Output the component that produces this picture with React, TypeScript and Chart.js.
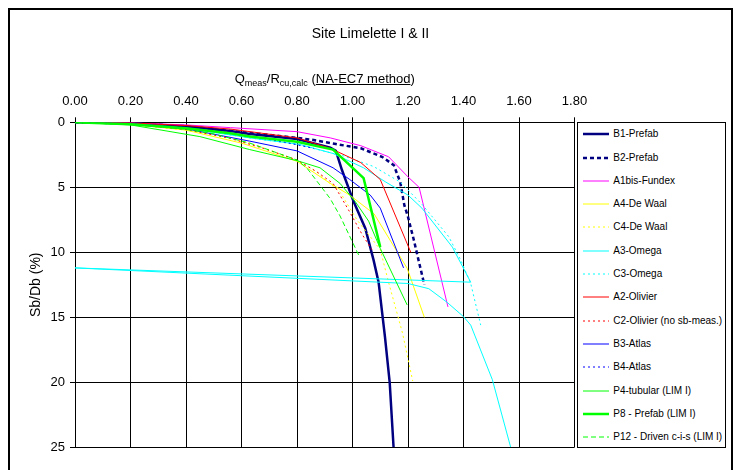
import React, { useEffect, useRef } from "react";
import { Chart, registerables } from "chart.js";

Chart.register(...registerables);

const FONT = "'Liberation Sans', Arial, Helvetica, sans-serif";

// ---- texts & axes ----
const chartTitle = "Site Limelette I & II";
const yAxisTitle = "Sb/Db (%)";
const xMin = 0;
const xMax = 1.8;
const xStep = 0.2;
const yMin = 0;
const yMax = 25;
const yStep = 5;

// ---- series values: [Qmeas/Rcu,calc, Sb/Db (%)] ----
const b1Prefab: number[][] = [
  [0, 0], [0.2, 0.08], [0.4, 0.3], [0.56, 0.67], [0.63, 0.9], [0.8, 1.28], [0.92, 1.95],
  [0.94, 2.2], [0.962, 3.67], [1.004, 6.1], [1.046, 8.15], [1.076, 10.6], [1.094, 12.3],
  [1.117, 16.5], [1.134, 20], [1.148, 25],
];
const b2Prefab: number[][] = [
  [0, 0], [0.2, 0.08], [0.4, 0.3], [0.6, 0.75], [0.8, 1.2], [0.86, 1.36], [0.94, 1.67],
  [1.03, 2.0], [1.106, 2.65], [1.149, 3.3], [1.172, 4.6], [1.187, 6.4], [1.199, 7.2],
  [1.221, 9.05], [1.239, 10.7], [1.259, 12.5],
];
const a1bisFundex: number[][] = [
  [0, 0], [0.2, 0.05], [0.4, 0.2], [0.56, 0.41], [0.8, 0.72], [0.92, 1.2], [1.03, 1.8],
  [1.13, 2.65], [1.2, 4.2], [1.24, 5.0], [1.344, 14.2],
];
const a4DeWaal: number[][] = [
  [0, 0], [0.2, 0.15], [0.4, 0.6], [0.6, 1.6], [0.8, 3.0], [0.92, 4.7], [0.99, 5.6],
  [1.078, 7.05], [1.197, 11.23], [1.259, 15.0],
];
const c4DeWaal: number[][] = [
  [0, 0], [0.2, 0.15], [0.4, 0.6], [0.5, 0.95], [0.63, 1.6], [0.8, 2.9], [0.87, 3.8],
  [0.956, 5.4], [1.016, 7.5], [1.064, 8.8], [1.1, 9.8], [1.13, 12.3], [1.18, 16.2],
  [1.217, 19.9],
];
const a3Omega: number[][] = [
  [0, 0], [0.2, 0.1], [0.4, 0.45], [0.63, 1.2], [0.81, 1.7], [0.93, 2.4], [1.04, 3.5],
  [1.12, 4.6], [1.2, 5.6], [1.25, 6.6], [1.36, 9.6], [1.426, 12.3], [0, 11.2],
  [1.2, 12.4], [1.275, 12.8], [1.341, 13.85], [1.4, 14.95], [1.426, 15.6], [1.504, 19.8],
  [1.57, 25],
];
const c3Omega: number[][] = [
  [0, 0], [0.2, 0.1], [0.4, 0.45], [0.63, 1.2], [0.8, 1.7], [0.97, 2.6], [1.076, 3.4],
  [1.172, 4.6], [1.25, 6.3], [1.347, 8.8], [1.39, 10.6], [1.426, 12.4], [1.462, 15.6],
];
const a2Olivier: number[][] = [
  [0, 0], [0.2, 0.05], [0.4, 0.25], [0.56, 0.52], [0.8, 1.2], [0.92, 2.0], [1.03, 3.1],
  [1.1, 4.4], [1.21, 10.0],
];
const c2Olivier: number[][] = [
  [0, 0], [0.2, 0.15], [0.4, 0.55], [0.558, 1.23], [0.678, 2.0], [0.8, 2.9], [0.871, 3.8],
  [0.93, 4.7], [0.99, 6.9], [1.034, 8.6], [1.07, 9.8],
];
const b3Atlas: number[][] = [
  [0, 0], [0.2, 0.12], [0.4, 0.5], [0.63, 1.45], [0.8, 2.2], [0.93, 3.5], [0.99, 4.4],
  [1.064, 5.6], [1.1, 6.6], [1.184, 11.2],
];
const b4Atlas: number[][] = [
  [0, 0], [0.2, 0.1], [0.4, 0.4], [0.6, 0.95], [0.75, 1.5], [0.86, 2.0],
];
const p4Tubular: number[][] = [
  [0, 0], [0.2, 0.2], [0.45, 1.1], [0.63, 2.1], [0.8, 2.95], [0.883, 3.5], [0.955, 4.7],
  [1.01, 6.1], [1.058, 7.6], [1.1, 9.7], [1.197, 14.05],
];
const p8Prefab: number[][] = [
  [0, 0], [0.2, 0.15], [0.4, 0.45], [0.558, 0.85], [0.63, 1.1], [0.8, 1.5], [0.93, 2.1],
  [1.04, 4.3], [1.1, 9.6],
];
const p12Driven: number[][] = [
  [0, 0], [0.2, 0.15], [0.4, 0.55], [0.49, 0.85], [0.63, 1.6], [0.8, 2.9], [0.835, 3.5],
  [0.919, 5.85], [0.955, 7.2], [1.022, 10.2],
];

// ---- series styles ----
type Series = { label: string; data: number[][]; color: string; width: number; dash: number[] };
const series: Series[] = [
  { label: "B1-Prefab", data: b1Prefab, color: "#000080", width: 2.5, dash: [] },
  { label: "B2-Prefab", data: b2Prefab, color: "#000080", width: 2.5, dash: [4, 3] },
  { label: "A1bis-Fundex", data: a1bisFundex, color: "#ff00ff", width: 1, dash: [] },
  { label: "A4-De Waal", data: a4DeWaal, color: "#ffff00", width: 1, dash: [] },
  { label: "C4-De Waal", data: c4DeWaal, color: "#ffff00", width: 1, dash: [2, 3] },
  { label: "A3-Omega", data: a3Omega, color: "#00ffff", width: 1, dash: [] },
  { label: "C3-Omega", data: c3Omega, color: "#00ffff", width: 1, dash: [2, 3] },
  { label: "A2-Olivier", data: a2Olivier, color: "#ff0000", width: 1, dash: [] },
  { label: "C2-Olivier (no sb-meas.)", data: c2Olivier, color: "#ff0000", width: 1, dash: [2, 3] },
  { label: "B3-Atlas", data: b3Atlas, color: "#0000ff", width: 1, dash: [] },
  { label: "B4-Atlas", data: b4Atlas, color: "#0000ff", width: 1, dash: [2, 3] },
  { label: "P4-tubular (LIM I)", data: p4Tubular, color: "#00ff00", width: 1, dash: [] },
  { label: "P8 - Prefab (LIM I)", data: p8Prefab, color: "#00ff00", width: 2.5, dash: [] },
  { label: "P12 - Driven c-i-s (LIM I)", data: p12Driven, color: "#00ff00", width: 1, dash: [5, 3] },
];

export default function App() {
  const ref = useRef<HTMLCanvasElement | null>(null);

  useEffect(() => {
    document.documentElement.style.overflow = "hidden";
    document.body.style.overflow = "hidden";
    const canvas = ref.current;
    if (!canvas) return;
    const n = series.length;
    const chart = new Chart(canvas, {
      type: "scatter",
      data: {
        datasets: series.map((s, i) => ({
          label: s.label,
          data: s.data.map(([x, y]) => ({ x, y })),
          showLine: true,
          borderColor: s.color,
          backgroundColor: s.color,
          borderWidth: s.width,
          borderDash: s.dash,
          pointRadius: 0,
          pointHoverRadius: 0,
          tension: 0,
          fill: false,
          order: n - i,
        })),
      },
      options: {
        responsive: false,
        animation: false,
        events: [],
        layout: { padding: { left: 0, top: 0, right: 156.5, bottom: 22.7 } },
        plugins: {
          legend: { display: false },
          tooltip: { enabled: false },
          title: { display: false },
        },
        scales: {
          x: {
            type: "linear",
            position: "top",
            min: xMin,
            max: xMax,
            ticks: {
              stepSize: xStep,
              autoSkip: false,
              maxRotation: 0,
              padding: 8,
              color: "#000",
              font: { family: FONT, size: 13 },
              callback: (v: any) => Number(v).toFixed(2),
            },
            grid: { color: "#000", lineWidth: 1, tickLength: 5, tickColor: "#000" },
            border: { color: "#000", width: 1 },
            afterFit: (s: any) => {
              s.height = 112.3;
            },
          },
          y: {
            type: "linear",
            reverse: true,
            min: yMin,
            max: yMax,
            ticks: {
              stepSize: yStep,
              padding: 5,
              color: "#000",
              font: { family: FONT, size: 13 },
            },
            grid: { color: "#000", lineWidth: 1, tickLength: 5, tickColor: "#000" },
            border: { color: "#000", width: 1 },
            title: {
              display: true,
              text: yAxisTitle,
              color: "#000",
              font: { family: FONT, size: 14 },
              padding: { top: 17.6, bottom: 0 },
            },
            afterFit: (s: any) => {
              s.width = 65;
            },
          },
        },
      },
    });
    return () => chart.destroy();
  }, []);

  return (
    <div
      style={{
        position: "relative",
        width: 725,
        height: 480,
        border: "2px solid #000",
        boxSizing: "border-box",
        background: "#fff",
        fontFamily: FONT,
        color: "#000",
      }}
    >
      <canvas
        ref={ref}
        width={721}
        height={460}
        style={{ position: "absolute", left: 0, top: 0, width: 721, height: 460 }}
      />
      <div
        style={{
          position: "absolute",
          left: 0,
          top: 15.2,
          width: 721,
          textAlign: "center",
          fontSize: 14,
          lineHeight: "16px",
          whiteSpace: "nowrap",
        }}
      >
        {chartTitle}
      </div>
      <div
        style={{
          position: "absolute",
          left: 65,
          top: 60.5,
          width: 499.5,
          textAlign: "center",
          fontSize: 13,
          lineHeight: "15px",
          whiteSpace: "nowrap",
        }}
      >
        Q<sub style={{ fontSize: 9, lineHeight: 0, verticalAlign: -3 }}>meas</sub>/R
        <sub style={{ fontSize: 9, lineHeight: 0, verticalAlign: -3 }}>cu,calc</sub> (
        <u>NA-EC7 method</u>)
      </div>
      <div
        style={{
          position: "absolute",
          left: 566.7,
          top: 112.3,
          width: 149.3,
          height: 325.7,
          border: "1px solid #000",
          boxSizing: "border-box",
          background: "#fff",
        }}
      >
        {series.map((s, i) => (
          <div
            key={s.label}
            style={{
              position: "absolute",
              left: 5.3,
              top: 11 + i * 23.3 - 6,
              height: 12,
              display: "flex",
              alignItems: "center",
              whiteSpace: "nowrap",
            }}
          >
            <svg width={26} height={12} style={{ display: "block" }}>
              <line
                x1={0}
                y1={6}
                x2={26}
                y2={6}
                stroke={s.color}
                strokeWidth={s.width}
                strokeDasharray={s.dash.length ? s.dash.join(" ") : undefined}
              />
            </svg>
            <span style={{ marginLeft: 4.3, fontSize: 10, lineHeight: "12px" }}>{s.label}</span>
          </div>
        ))}
      </div>
    </div>
  );
}
